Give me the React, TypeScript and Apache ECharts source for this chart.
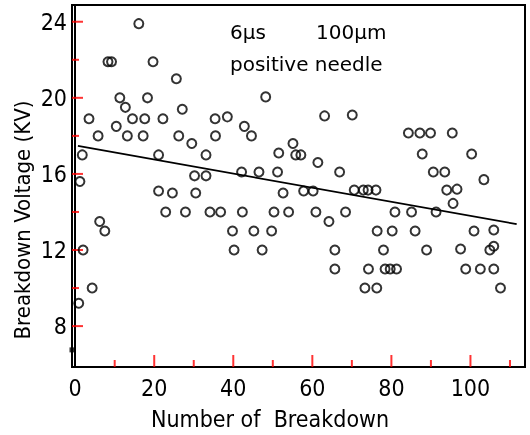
import React, { useEffect, useRef } from "react";
import * as echarts from "echarts";

// Breakdown number (x) and breakdown voltage in kV (y)
const breakdownNo: number[] = [
  0.9, 1.2, 1.8, 2.0, 3.5, 4.3, 5.8, 6.2, 7.5, 8.3,
  9.2, 10.4, 11.3, 12.7, 13.2, 14.5, 16.1, 17.2, 17.6, 18.3,
  19.7, 21.1, 21.1, 22.2, 22.9, 24.6, 25.6, 26.2, 27.1, 27.9,
  29.5, 30.2, 30.5, 33.1, 33.1, 34.1, 35.4, 35.5, 36.8, 38.5,
  39.8, 40.2, 42.1, 42.3, 42.8, 44.6, 45.2, 46.5, 47.3, 48.2,
  49.7, 50.3, 51.2, 51.5, 52.6, 54.0, 55.1, 55.8, 57.1, 57.8,
  60.2, 60.9, 61.4, 63.1, 64.2, 65.7, 65.7, 66.9, 68.4, 70.1,
  70.6, 72.9, 74.1, 76.1, 73.3, 74.2, 76.3, 76.4, 78.0, 78.4,
  79.7, 81.3, 80.2, 80.9, 84.3, 85.1, 86.0, 87.2, 87.8, 88.9,
  89.9, 90.6, 91.3, 93.5, 94.0, 95.4, 95.6, 96.6, 97.5, 98.8,
  100.3, 100.9, 102.5, 103.4, 104.9, 105.9, 105.9, 105.9, 107.6,
];
const voltageKV: number[] = [
  9.2, 15.6, 17.0, 12.0, 18.9, 10.0, 18.0, 13.5, 13.0, 21.9,
  21.9, 18.5, 20.0, 19.5, 18.0, 18.9, 23.9, 18.0, 18.9, 20.0,
  21.9, 17.0, 15.1, 18.9, 14.0, 15.0, 21.0, 18.0, 19.4, 14.0,
  17.6, 15.9, 15.0, 17.0, 15.9, 14.0, 18.9, 18.0, 14.0, 19.0,
  13.0, 12.0, 16.1, 14.0, 18.5, 18.0, 13.0, 16.1, 12.0, 20.05,
  13.0, 14.0, 16.1, 17.1, 15.0, 14.0, 17.6, 17.0, 17.0, 15.1,
  15.1, 14.0, 16.6, 19.05, 13.5, 12.0, 11.0, 16.1, 14.0, 19.1,
  15.15, 15.15, 15.15, 15.15, 10.0, 11.0, 10.0, 13.0, 12.0, 11.0,
  11.0, 11.0, 13.0, 14.0, 18.15, 14.0, 13.0, 18.15, 17.05, 12.0,
  18.15, 16.1, 14.0, 16.1, 15.15, 18.15, 14.45, 15.2, 12.05, 11.0,
  17.05, 13.0, 11.0, 15.7, 12.0, 12.2, 13.05, 11.0, 10.0,
];

// Fitted trend line end points
const fitX: number[] = [0.7, 111.7];
const fitY: number[] = [17.47, 13.36];

// Tick values
const xLabelTicks: number[] = [0, 20, 40, 60, 80, 100];
const xMajorTicks: number[] = [20, 40, 60, 80, 100];
const xMinorTicks: number[] = [10, 30, 50, 70, 90, 110];
const yMajorTicks: number[] = [8, 12, 16, 20, 24];
const yMinorTicks: number[] = [10, 14, 18, 22];
const axisMark: number[] = [6.75];

const X_MIN = -0.8;
const X_MAX = 113.8;
const Y_MIN = 5.85;
const Y_MAX = 24.88;

const TICK_FONT = "'DejaVu Sans Condensed', 'DejaVu Sans', sans-serif";
const NOTE_FONT = "'DejaVu Sans', sans-serif";
const INK = "#000";

export default function App() {
  const ref = useRef<HTMLDivElement>(null);

  useEffect(() => {
    if (!ref.current) return;
    const chart = echarts.init(ref.current, undefined, { renderer: "svg" });
    const points = breakdownNo.map((x, i) => [x, voltageKV[i]]);
    const fit = fitX.map((x, i) => [x, fitY[i]]);

    const xTicks = [
      ...xMajorTicks.map((v) => ({ value: [v, Y_MIN], symbolSize: [2, 12], symbolOffset: [0, -6] })),
      ...xMinorTicks.map((v) => ({ value: [v, Y_MIN], symbolSize: [2, 7], symbolOffset: [0, -3.5] })),
    ];
    const yTicks = [
      ...yMajorTicks.map((v) => ({ value: [X_MIN, v], symbolSize: [11, 2], symbolOffset: [5.5, 0] })),
      ...yMinorTicks.map((v) => ({ value: [X_MIN, v], symbolSize: [7, 2], symbolOffset: [3.5, 0] })),
    ];

    chart.setOption({
      animation: false,
      grid: { left: 72, right: 5, top: 5, bottom: 68, show: true, borderColor: INK, borderWidth: 2 },
      xAxis: {
        type: "value",
        min: X_MIN,
        max: X_MAX,
        splitLine: { show: false },
        axisLine: { show: true, lineStyle: { color: INK, width: 2 } },
        axisTick: { show: false },
        axisLabel: {
          customValues: xLabelTicks,
          margin: 9,
          color: INK,
          fontSize: 23,
          fontFamily: TICK_FONT,
        },
      },
      yAxis: {
        type: "value",
        min: Y_MIN,
        max: Y_MAX,
        splitLine: { show: false },
        axisLine: { show: true, lineStyle: { color: INK, width: 2 } },
        axisTick: { show: false },
        axisLabel: {
          customValues: yMajorTicks,
          margin: 5,
          color: INK,
          fontSize: 23,
          fontFamily: TICK_FONT,
        },
      },
      graphic: [
        { type: "text", x: 230, y: 32, style: { text: "6μs", fill: INK, font: `20px ${NOTE_FONT}`, verticalAlign: "middle" } },
        { type: "text", x: 316, y: 32, style: { text: "100μm", fill: INK, font: `20px ${NOTE_FONT}`, verticalAlign: "middle" } },
        { type: "text", x: 230, y: 64, style: { text: "positive needle", fill: INK, font: `20px ${NOTE_FONT}`, verticalAlign: "middle" } },
        {
          type: "text",
          x: 270,
          y: 419,
          style: { text: "Number of  Breakdown", fill: INK, font: `23px ${TICK_FONT}`, align: "center", verticalAlign: "middle" },
        },
        {
          type: "text",
          x: 22,
          y: 220,
          rotation: Math.PI / 2,
          style: { text: "Breakdown Voltage (KV)", fill: INK, font: `22px ${TICK_FONT}`, align: "center", verticalAlign: "middle" },
        },
      ],
      series: [
        { type: "scatter", data: xTicks, symbol: "rect", clip: false, itemStyle: { color: "#ff0000" } },
        { type: "scatter", data: yTicks, symbol: "rect", clip: false, itemStyle: { color: "#ff0000" } },
        {
          type: "scatter",
          data: points,
          symbol: "circle",
          symbolSize: 9,
          itemStyle: { color: "rgba(255,255,255,0)", borderColor: INK, borderWidth: 2 },
        },
        { type: "line", data: fit, symbol: "none", lineStyle: { color: INK, width: 1.8 } },
        {
          type: "scatter",
          data: axisMark.map((v) => [X_MIN, v]),
          symbol: "rect",
          symbolSize: 5,
          clip: false,
          itemStyle: { color: INK },
        },
      ],
    });

    return () => chart.dispose();
  }, []);

  return <div ref={ref} style={{ position: "fixed", left: 0, top: 0, width: 530, height: 435 }} />;
}
